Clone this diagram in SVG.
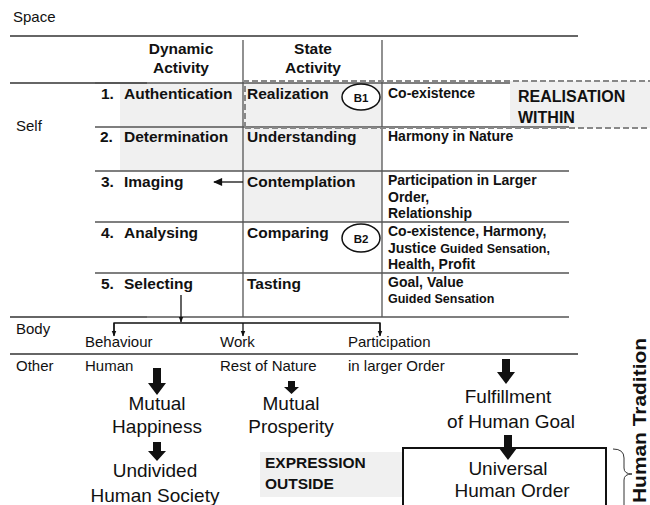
<svg xmlns="http://www.w3.org/2000/svg" width="650" height="505" viewBox="0 0 650 505">
<defs>
<style>
text{font-family:"Liberation Sans",Arial,sans-serif;fill:#111}
.lbl{font-size:15px}
.hd{font-size:15.5px;font-weight:bold}
.c3{font-size:14px;font-weight:bold}
.c3s{font-size:12.5px;font-weight:bold}
.big{font-size:19px}
.sep{stroke:#333;stroke-width:1.3;fill:none}
.tl{stroke:#555;stroke-width:1.3;fill:none}
.gray{fill:#f0f0f0}
.thin{stroke:#111;stroke-width:1.3;fill:none}
.blk{fill:#111}
</style>
<marker id="ah" viewBox="0 0 10 10" refX="9" refY="5" markerWidth="10" markerHeight="9" orient="auto" markerUnits="userSpaceOnUse">
<path d="M0,0.5 L10,5 L0,9.5 Z" fill="#111"/>
</marker>
<marker id="ahs" viewBox="0 0 10 10" refX="9" refY="5" markerWidth="6" markerHeight="7" orient="auto" markerUnits="userSpaceOnUse">
<path d="M0,1 L10,5 L0,9 Z" fill="#111"/>
</marker>
</defs>
<rect width="650" height="505" fill="#fff"/>

<!-- shading -->
<rect class="gray" x="120" y="83" width="123" height="88"/>
<rect class="gray" x="243" y="83" width="139" height="139"/>
<rect class="gray" x="510" y="81" width="140" height="47"/>
<rect class="gray" x="260" y="452" width="143" height="45"/>

<!-- table lines -->
<g id="grid">
<line class="sep" x1="10" y1="36" x2="578" y2="36"/>
<line class="sep" x1="10" y1="83" x2="147" y2="83"/>
<line class="tl" x1="95" y1="83" x2="510" y2="83"/>
<line class="tl" x1="95" y1="127" x2="569" y2="127"/>
<line class="tl" x1="95" y1="171" x2="569" y2="171"/>
<line class="tl" x1="95" y1="222" x2="569" y2="222"/>
<line class="tl" x1="95" y1="273" x2="569" y2="273"/>
<line class="sep" x1="10" y1="317" x2="147" y2="317"/>
<line class="tl" x1="147" y1="317" x2="569" y2="317"/>
<line class="tl" x1="243" y1="40" x2="243" y2="317"/>
<line class="tl" x1="382" y1="40" x2="382" y2="317"/>
<line class="sep" x1="10" y1="354" x2="578" y2="354"/>
<path d="M245,128 L245,81 L650,81 M245,128 L650,128" fill="none" stroke="#888" stroke-width="2" stroke-dasharray="6,3"/>
</g>

<g id="sections">
<text class="lbl" x="13" y="22">Space</text>
<text class="lbl" x="16" y="131">Self</text>
<text class="lbl" x="16" y="334">Body</text>
<text class="lbl" x="16" y="371">Other</text>
</g>

<g id="headers">
<text class="hd" text-anchor="middle" x="181" y="54">Dynamic</text>
<text class="hd" text-anchor="middle" x="181" y="73">Activity</text>
<text class="hd" text-anchor="middle" x="313" y="54">State</text>
<text class="hd" text-anchor="middle" x="313" y="73">Activity</text>
</g>

<g id="row1">
<text class="hd" x="101" y="99">1.</text><text class="hd" x="124" y="99">Authentication</text>
<text class="hd" x="247" y="99">Realization</text>
<text class="c3" x="388" y="98">Co-existence</text>
</g>
<g id="row2">
<text class="hd" x="100" y="142">2.</text><text class="hd" x="124" y="142">Determination</text>
<text class="hd" x="247" y="142">Understanding</text>
<text class="c3" x="388" y="141">Harmony in Nature</text>
</g>
<g id="row3">
<text class="hd" x="101" y="187">3.</text><text class="hd" x="124" y="187">Imaging</text>
<text class="hd" x="247" y="187">Contemplation</text>
<text class="c3" x="388" y="185">Participation in Larger</text>
<text class="c3" x="388" y="202">Order,</text>
<text class="c3" x="388" y="218">Relationship</text>
</g>
<g id="row4">
<text class="hd" x="101" y="238">4.</text><text class="hd" x="124" y="238">Analysing</text>
<text class="hd" x="247" y="238">Comparing</text>
<text class="c3" x="388" y="236">Co-existence, Harmony,</text>
<text class="c3" x="388" y="253">Justice <tspan class="c3s">Guided Sensation,</tspan></text>
<text class="c3" x="388" y="269">Health, Profit</text>
</g>
<g id="row5">
<text class="hd" x="101" y="289">5.</text><text class="hd" x="124" y="289">Selecting</text>
<text class="hd" x="247" y="289">Tasting</text>
<text class="c3" x="388" y="287">Goal, Value</text>
<text class="c3s" x="388" y="303">Guided Sensation</text>
</g>

<g id="b1">
<ellipse cx="361" cy="97" rx="19" ry="13" fill="#fff" stroke="#111" stroke-width="1.5"/>
<text x="361" y="101.5" text-anchor="middle" style="font-size:11.5px;font-weight:bold">B1</text>
</g>
<g id="b2">
<ellipse cx="361" cy="238" rx="19" ry="14" fill="#fff" stroke="#111" stroke-width="1.5"/>
<text x="361" y="242.5" text-anchor="middle" style="font-size:11.5px;font-weight:bold">B2</text>
</g>

<g id="realisation-within">
<text x="518" y="102" style="font-size:16px;font-weight:bold">REALISATION</text>
<text x="518" y="123" style="font-size:16px;font-weight:bold">WITHIN</text>
</g>

<g id="body-items">
<text class="lbl" x="85" y="347">Behaviour</text>
<text class="lbl" x="220" y="347">Work</text>
<text class="lbl" x="348" y="347">Participation</text>
</g>
<g id="other-items">
<text class="lbl" x="85" y="371">Human</text>
<text class="lbl" x="220" y="371">Rest of Nature</text>
<text class="lbl" x="348" y="371">in larger Order</text>
</g>

<g id="mutual-happiness">
<text class="big" text-anchor="middle" x="157" y="410">Mutual</text>
<text class="big" text-anchor="middle" x="157" y="433">Happiness</text>
</g>
<g id="undivided-society">
<text class="big" text-anchor="middle" x="155" y="477">Undivided</text>
<text class="big" text-anchor="middle" x="155" y="502">Human Society</text>
</g>
<g id="mutual-prosperity">
<text class="big" text-anchor="middle" x="291" y="410">Mutual</text>
<text class="big" text-anchor="middle" x="291" y="433">Prosperity</text>
</g>
<g id="fulfillment">
<text class="big" text-anchor="middle" x="508" y="403">Fulfillment</text>
<text class="big" text-anchor="middle" x="511" y="428">of Human Goal</text>
</g>
<g id="expression-outside">
<text x="265" y="468" style="font-size:15.5px;font-weight:bold">EXPRESSION</text>
<text x="265" y="489" style="font-size:15.5px;font-weight:bold">OUTSIDE</text>
</g>
<g id="universal-order">
<rect x="403" y="448" width="203" height="70" fill="#fff" stroke="#111" stroke-width="2"/>
<text class="big" text-anchor="middle" x="508" y="475">Universal</text>
<text class="big" text-anchor="middle" x="512" y="497">Human Order</text>
</g>
<g id="human-tradition">
<path d="M613,449 Q624,449 624,458 L624,468 Q624,474 632,474 Q624,474 624,480 L624,505" fill="none" stroke="#333" stroke-width="1"/>
<text transform="translate(646,503) rotate(-90)" textLength="165" lengthAdjust="spacingAndGlyphs" style="font-size:18px;font-weight:bold">Human Tradition</text>
</g>

<g id="connectors">
<line class="thin" x1="243" y1="182" x2="214" y2="182" stroke-width="2" marker-end="url(#ah)"/>
<line class="thin" x1="181" y1="295" x2="181" y2="322" marker-end="url(#ahs)"/>
<polyline class="thin" points="114,335 114,323 380,323 380,335"/>
<line class="thin" x1="114" y1="323" x2="114" y2="336" marker-end="url(#ahs)"/>
<line class="thin" x1="243" y1="323" x2="243" y2="336" marker-end="url(#ahs)"/>
<line class="thin" x1="380" y1="323" x2="380" y2="336" marker-end="url(#ahs)"/>
<polygon class="blk" points="153,368 161,368 161,383 166,383 157,395 148,383 153,383"/>
<polygon class="blk" points="288,381 295,381 295,387 299,387 291.5,394 284,387 288,387"/>
<polygon class="blk" points="153,442 161,442 161,451 166,451 157,461 148,451 153,451"/>
<polygon class="blk" points="502,359 510,359 510,372 515,372 506,384 497,372 502,372"/>
<polygon class="blk" points="504,435 512,435 512,448 517,448 508,460 499,448 504,448"/>
</g>
</svg>
